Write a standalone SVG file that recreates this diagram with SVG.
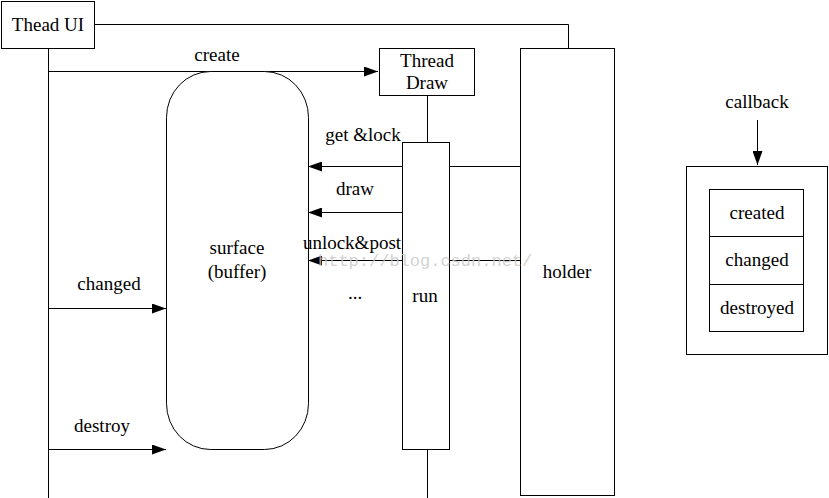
<svg xmlns="http://www.w3.org/2000/svg" width="829" height="498" viewBox="0 0 829 498">
<style>
.b{fill:#fff;stroke:#000;stroke-width:1}
.l{fill:none;stroke:#000;stroke-width:1}
text{font-family:'Liberation Serif','Times New Roman','DejaVu Serif',serif;font-size:19px;fill:#000;text-anchor:middle}
.wm{font-family:'Liberation Mono',monospace;font-size:17px;fill:#c8c8c8;text-anchor:start}
</style>
<defs>
<marker id="ah" markerWidth="14" markerHeight="10" refX="14" refY="5" orient="auto" markerUnits="userSpaceOnUse">
<path d="M0,0 L14,5 L0,10 Z" fill="#000"/>
</marker>
</defs>
<rect width="829" height="498" fill="#fff"/>
<g id="connectors">
<polyline class="l" points="95,24.5 568.5,24.5 568.5,48"/>
<line class="l" x1="48.5" y1="48" x2="48.5" y2="498"/>
<line class="l" x1="48.5" y1="71.5" x2="378" y2="71.5" marker-end="url(#ah)"/>
<line class="l" x1="427.5" y1="95" x2="427.5" y2="142"/>
<line class="l" x1="427.5" y1="449" x2="427.5" y2="498"/>
<line class="l" x1="520" y1="166.5" x2="308" y2="166.5" marker-end="url(#ah)"/>
<line class="l" x1="402" y1="212.5" x2="308" y2="212.5" marker-end="url(#ah)"/>
<line class="l" x1="520" y1="260.5" x2="308" y2="260.5" marker-end="url(#ah)"/>
<line class="l" x1="48.5" y1="308.5" x2="166" y2="308.5" marker-end="url(#ah)"/>
<line class="l" x1="48.5" y1="449.5" x2="166" y2="449.5" marker-end="url(#ah)"/>
<line class="l" x1="757.5" y1="120" x2="757.5" y2="165" marker-end="url(#ah)"/>
</g>
<g id="thead-ui"><rect class="b" x="1.5" y="1.5" width="93" height="47"/><text x="48" y="31">Thead UI</text></g>
<g id="thread-draw"><rect class="b" x="379.5" y="48.5" width="95" height="47"/><text x="427" y="67">Thread</text><text x="427" y="89">Draw</text></g>
<g id="surface"><rect class="b" x="166.5" y="71.5" width="142" height="378" rx="44" ry="46"/><text x="237" y="254">surface</text><text x="237" y="278">(buffer)</text></g>
<g id="run"><rect class="b" x="402.5" y="142.5" width="47" height="307"/><text x="425" y="302">run</text></g>
<g id="holder"><rect class="b" x="520.5" y="48.5" width="94" height="447"/><text x="567" y="278">holder</text></g>
<g id="labels">
<text x="217" y="61">create</text>
<text x="363" y="141">get &amp;lock</text>
<text x="355" y="195">draw</text>
<text x="352" y="249">unlock&amp;post</text>
<text x="355" y="299">...</text>
<text x="109" y="290">changed</text>
<text x="102" y="432">destroy</text>
<text x="757" y="108">callback</text>
</g>
<g id="callback-box">
<rect class="b" x="686.5" y="166.5" width="141" height="188"/>
<g id="created"><rect class="b" x="709.5" y="189.5" width="94" height="47"/><text x="757" y="219">created</text></g>
<g id="changed"><rect class="b" x="709.5" y="236.5" width="94" height="48"/><text x="757" y="266">changed</text></g>
<g id="destroyed"><rect class="b" x="709.5" y="284.5" width="94" height="47"/><text x="757" y="314">destroyed</text></g>
</g>
<text class="wm" x="318" y="266" opacity="0.8">http://blog.csdn.net/</text>
</svg>
